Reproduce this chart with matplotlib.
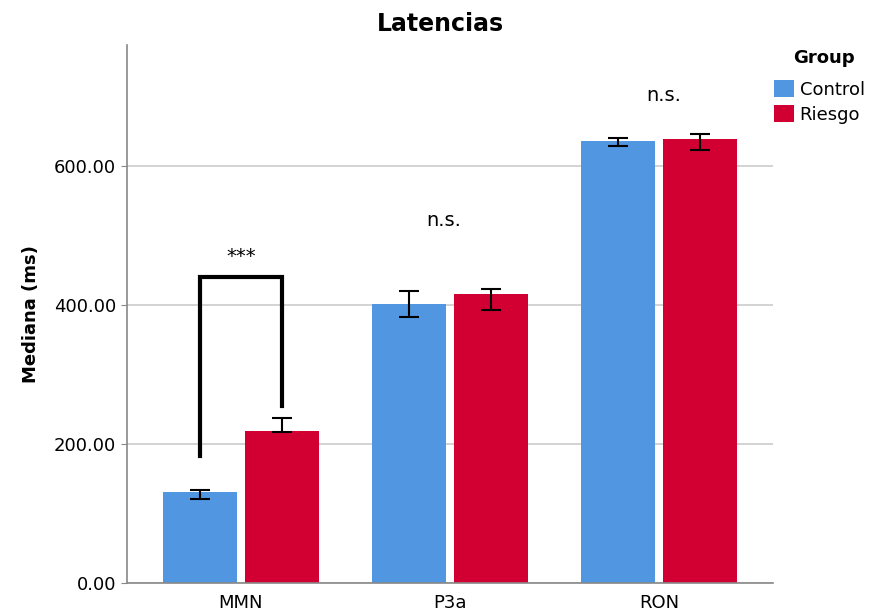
import matplotlib
matplotlib.use("Agg")
import matplotlib.pyplot as plt
import numpy as np
from matplotlib.patches import Patch

categories = ["MMN", "P3a", "RON"]
groups = ["Control", "Riesgo"]
control_vals = [131, 401, 636]
control_lo = [121, 383, 629]
control_hi = [134, 420, 640]
riesgo_vals = [219, 416, 639]
riesgo_lo = [217, 393, 623]
riesgo_hi = [237, 423, 646]
yticks = [0, 200, 400, 600]
annotations = ["***", "n.s.", "n.s."]

blue = "#5096E1"
red = "#D20032"

fig = plt.figure(figsize=(8.73, 6.15), dpi=100)
ax = fig.add_axes([0.1455, 0.052, 0.74, 0.8748])

x = np.arange(len(categories))
w = 0.354
off = 0.196

for vals, lo, hi, color, sign in [(control_vals, control_lo, control_hi, blue, -1),
                                  (riesgo_vals, riesgo_lo, riesgo_hi, red, 1)]:
    vals = np.array(vals); lo = np.array(lo); hi = np.array(hi)
    pos = x + sign * off
    ax.bar(pos, vals, width=w, color=color, zorder=2)
    ax.errorbar(pos, vals, yerr=[vals - lo, hi - vals], fmt="none",
                ecolor="black", elinewidth=1.5, capsize=7, capthick=1.5, zorder=3)

ax.set_xlim(-0.545, 2.545)
ax.set_ylim(0, 774)
ax.set_yticks(yticks)
ax.set_yticklabels([f"{v:.2f}" for v in yticks], fontsize=13)
ax.set_xticks(x)
ax.set_xticklabels(categories, fontsize=13)
ax.tick_params(axis="x", length=0, pad=8)
ax.tick_params(axis="y", length=4, color="#888888", pad=4)
ax.grid(axis="y", color="#CCCCCC", linewidth=1.2, zorder=0)
ax.set_axisbelow(True)
for s in ["top", "right"]:
    ax.spines[s].set_visible(False)
for s in ["left", "bottom"]:
    ax.spines[s].set_color("#888888")
    ax.spines[s].set_linewidth(1.2)

ax.set_ylabel("Mediana (ms)", fontsize=13, fontweight="bold", labelpad=10)
ax.set_title("Latencias", fontsize=17, fontweight="bold", pad=10, x=0.485)

# significance bracket for MMN
xl = x[0] - off
xr = x[0] + off
ax.plot([xl, xl, xr, xr], [183, 440, 440, 255], color="black", linewidth=3,
        solid_joinstyle="miter", zorder=4)
ax.text(x[0], 470, annotations[0], ha="center", va="center", fontsize=14)
ax.text(x[1] - 0.03, 522, annotations[1], ha="center", va="center", fontsize=14)
ax.text(x[2] + 0.02, 702, annotations[2], ha="center", va="center", fontsize=14)

handles = [Patch(facecolor=blue, label=groups[0]), Patch(facecolor=red, label=groups[1])]
fig.text(0.944, 0.906, "Group", ha="center", va="center", fontsize=13, fontweight="bold")
leg = fig.legend(handles=handles, loc="upper left",
                 bbox_to_anchor=(0.887, 0.87), frameon=False, fontsize=13,
                 handlelength=1.1, handleheight=1.1, handletextpad=0.3,
                 labelspacing=0.35, borderaxespad=0, borderpad=0)

fig.savefig("out.png", dpi=100)
